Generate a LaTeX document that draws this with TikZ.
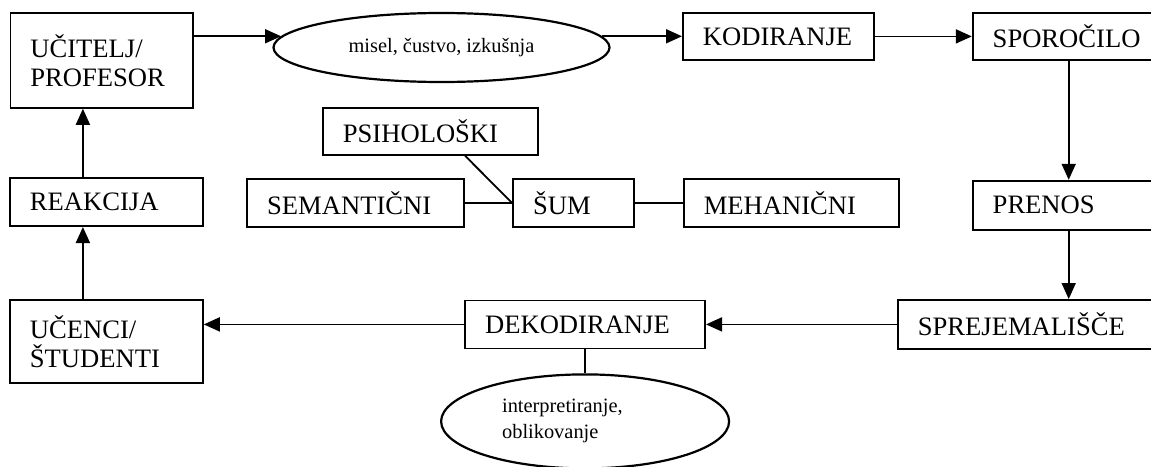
\documentclass[tikz,border=0pt]{standalone}
\usepackage{fontspec}
\setmainfont{Liberation Serif}
\usetikzlibrary{shapes,arrows.meta}
\usetikzlibrary{positioning}
\tikzstyle{arrow} = [line width=0.9pt,-{Triangle[length=8pt,width=7pt]}]
\tikzstyle{line} = [line width=0.9pt]
\tikzstyle{stage} = [
    rectangle, draw=black, line width=0.9pt, align=left, inner xsep=10pt, inner ysep=0pt,
    font=\fontsize{13.3}{14.5}\selectfont]
\tikzstyle{thought} = [
    ellipse, draw=black, line width=1.1pt, inner sep=0pt,
    font=\fontsize{10.2}{13}\selectfont]

\begin{document}
\begin{tikzpicture}[x=0.5pt,y=-0.5pt]
\useasboundingbox (0,0) rectangle (1151,466);

\node (ucitelj) [stage, anchor=north west, text width=71.25pt, minimum height=47.5pt] at (9.5,12) {
    UČITELJ/\\PROFESOR\\[2pt]};
\node (misel) [thought, minimum width=168pt, minimum height=34.5pt] at (441.5,47.5) {
    misel, čustvo, izkušnja};
\node (kodiranje) [stage, anchor=north west, text width=75.5pt, minimum height=23.5pt] at (682,12) {
    KODIRANJE};
\node (sporocilo) [stage, text width=76pt, minimum height=23.5pt, right=48.5pt of kodiranje] {
    SPOROČILO};
\node (prenos) [stage, text width=76pt, minimum height=24.5pt, below=59.5pt of sporocilo] {
    PRENOS};
\node (sprejemalisce) [stage, anchor=north west, text width=115pt, minimum height=24.5pt] at (897,299) {
    SPREJEMALIŠČE};
\node (dekodiranje) [stage, text width=100pt, minimum height=24pt, left=95.5pt of sprejemalisce] {
    DEKODIRANJE};
\node (interpretacija) [thought, align=left, text width=83pt, minimum width=144pt, minimum height=47pt,
    below=12pt of dekodiranje] {
    interpretiranje,\\oblikovanje};
\node (ucenci) [stage, anchor=north west, text width=76.5pt, minimum height=41.5pt] at (9,299) {
    UČENCI/\\ŠTUDENTI};
\node (reakcija) [stage, text width=76.5pt, minimum height=24pt, above=36pt of ucenci] {
    REAKCIJA};

\node (sum) [stage, text width=40.5pt, minimum height=24pt] at (573.5,203) {ŠUM};
\node (semanticni) [stage, text width=88.5pt, minimum height=24pt, left=23.5pt of sum] {SEMANTIČNI};
\node (mehanicni) [stage, text width=87.5pt, minimum height=24pt, right=24pt of sum] {MEHANIČNI};
\node (psiholoski) [stage, anchor=north west, text width=87.5pt, minimum height=23.5pt] at (322,107) {PSIHOLOŠKI};

\draw [arrow] (ucitelj.east |- misel.176) -- (misel.176);
\draw [arrow] (misel.4) -- (kodiranje.west |- misel.4);
\draw [arrow] (kodiranje) -- (sporocilo);
\draw [arrow] (sporocilo) -- (prenos);
\draw [arrow] (prenos.south) -- (prenos.south |- sprejemalisce.north);
\draw [arrow] (sprejemalisce) -- (dekodiranje);
\draw [arrow] (dekodiranje.west) -- (dekodiranje.west -| ucenci.east);
\draw [line] (dekodiranje) -- (interpretacija);
\draw [arrow] ([xshift=-11.75pt]ucenci.north) -- ([xshift=-11.75pt]reakcija.south);
\draw [arrow] ([xshift=-11.75pt]reakcija.north) -- ([xshift=-11.75pt]reakcija.north |- ucitelj.south);
\draw [line] (semanticni) -- (sum);
\draw [line] (sum) -- (mehanicni);
\draw [line] (psiholoski.south -| semanticni.east) -- (sum.west);
\end{tikzpicture}
\end{document}
